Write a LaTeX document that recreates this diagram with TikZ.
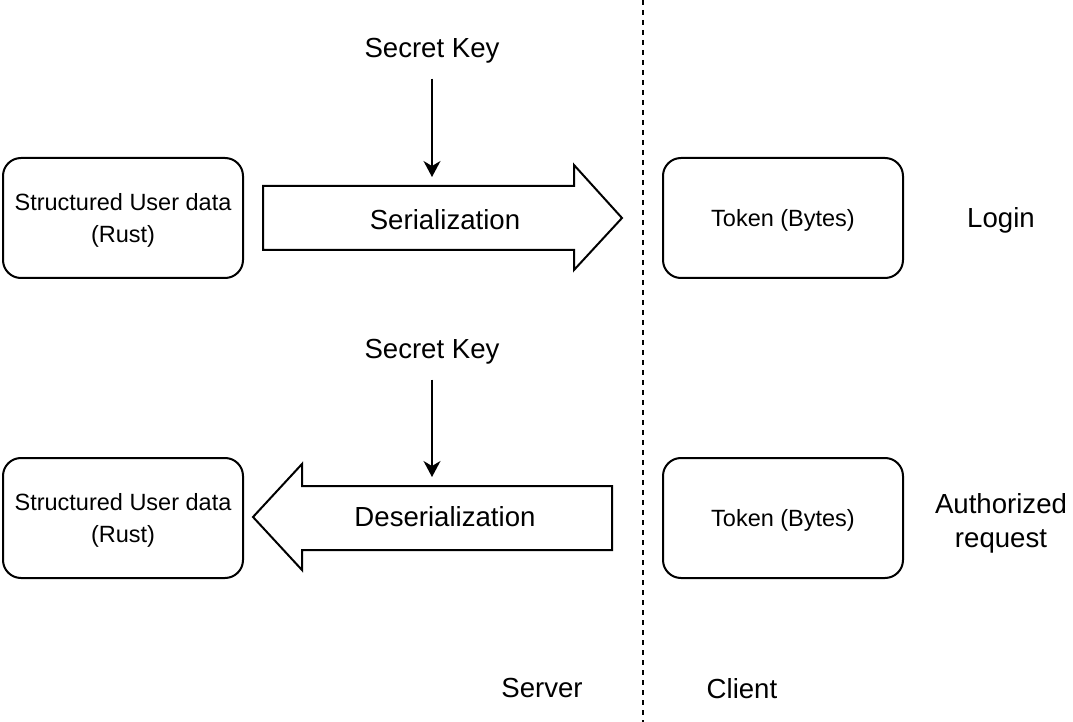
\documentclass[tikz,border=0pt]{standalone}
\usepackage{fontspec}
\setmainfont{Liberation Sans}
\usetikzlibrary{arrows.meta}

\begin{document}
\begin{tikzpicture}[x=0.5pt,y=-0.5pt,
    databox/.style={draw,line width=1pt,rounded corners=9pt,minimum width=120pt,minimum height=60pt,align=center,text depth=0pt,font=\fontsize{11.75}{16}\selectfont},
    bigtext/.style={align=center,text depth=0pt,font=\fontsize{13.8}{17}\selectfont},
    bigarrow/.style={draw,line width=1pt,line join=miter},
    keyarrow/.style={line width=0.7pt,-{Stealth[length=8pt,width=8.5pt,inset=2.5pt]},shorten <=7pt},
    divider/.style={line width=1pt,dash pattern=on 2.5pt off 2.5pt}]

    \useasboundingbox (0,0) rectangle (1073,722);

    % server / client split
    \coordinate (divtop) at (643,0);
    \coordinate (divbot) at (643,722);
    \draw[divider] (divtop) -- (divbot);
    \node[bigtext] (server) at (542,688) {Server};
    \node[bigtext] (client) at (742,688) {Client};

    % login
    \node[databox] (user1) at (123,218) {Structured User data\\(Rust)};
    \node[databox] (token1) at (783,218) {Token (Bytes)};
    \node[bigtext] (login) at (1001,218) {Login};
    \draw[bigarrow] (263,186) -- (574,186) -- (574,165) -- (622,218) -- (574,270) -- (574,250) -- (263,250) -- cycle;
    \node[bigtext] (ser) at (445,220) {Serialization};
    \node[bigtext] (key1) at (432,48) {Secret Key};
    \coordinate (k1) at (432,177);
    \draw[keyarrow] (key1) -- (k1);

    % authorized request
    \node[databox] (user2) at (123,518) {Structured User data\\(Rust)};
    \node[databox] (token2) at (783,518) {Token (Bytes)};
    \node[bigtext] (auth) at (1001,520) {Authorized\\request};
    \draw[bigarrow] (612,486) -- (302,486) -- (302,464) -- (253,517) -- (302,570) -- (302,550) -- (612,550) -- cycle;
    \node[bigtext] (deser) at (445,516) {Deserialization};
    \node[bigtext] (key2) at (432,349) {Secret Key};
    \coordinate (k2) at (432,477);
    \draw[keyarrow] (key2) -- (k2);

\end{tikzpicture}
\end{document}
